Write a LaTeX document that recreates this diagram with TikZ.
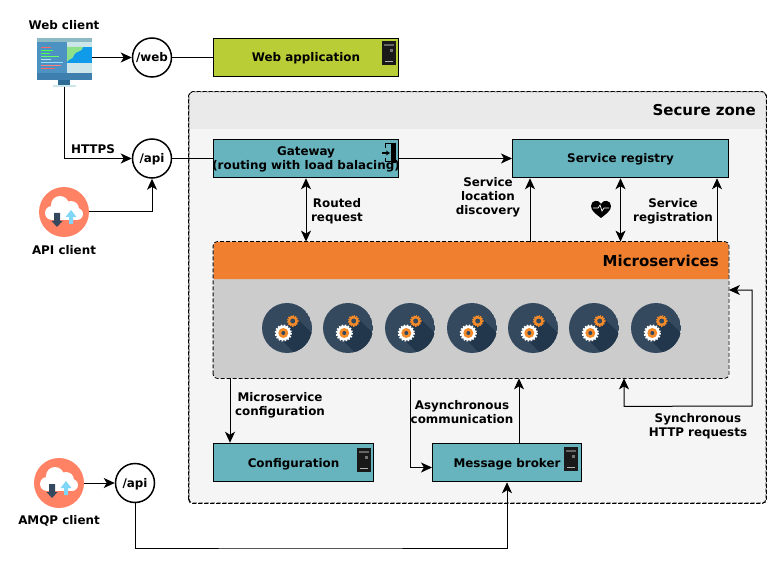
\documentclass[tikz,border=0pt]{standalone}
\usepackage{fontspec}
\setmainfont{DejaVu Sans}
\usetikzlibrary{arrows.meta}

\definecolor{boxteal}{HTML}{67B3BE}
\definecolor{boxlime}{HTML}{B9CD37}
\definecolor{zonefill}{HTML}{F5F5F5}
\definecolor{zonehead}{HTML}{EAEAEA}
\definecolor{microhead}{HTML}{F07F30}
\definecolor{microbody}{HTML}{CCCCCC}
\definecolor{gearblue}{HTML}{34495E}
\definecolor{gearshade}{HTML}{22364C}
\definecolor{gearorange}{HTML}{F58B29}
\definecolor{cloudred}{HTML}{FF8264}
\definecolor{screenblue}{HTML}{4C93C3}
\definecolor{screentop}{HTML}{8DBBC5}
\definecolor{screenbar}{HTML}{3F7FAE}
\definecolor{screenstand}{HTML}{2D6A96}
\definecolor{screenpale}{HTML}{CDE6EA}
\definecolor{mapblue}{HTML}{0F9BEA}
\definecolor{mapgreen}{HTML}{8FE08A}

\tikzset{
    label text/.style={font=\fontsize{11.9}{14}\selectfont\bfseries, align=center, inner sep=0pt},
    free text/.style={label text, yshift=-1pt},
    title text/.style={font=\fontsize{15}{17}\selectfont\bfseries, inner sep=0pt, anchor=east},
    box/.style={draw, line width=1pt, label text, text height=9pt, text depth=0pt, minimum height=38.5pt},
    endpoint/.style={draw, circle, fill=white, line width=1.5pt, label text, text height=9pt, text depth=0pt, minimum size=39pt},
    dashbox/.style={draw, dash pattern=on 4pt off 2pt, line width=0.8pt, rounded corners=4pt, inner sep=0pt},
    link/.style={line width=1pt},
    arrow/.style={link, -{Stealth[length=11pt,width=10pt,inset=3pt]}},
    biarrow/.style={link, {Stealth[length=11pt,width=10pt,inset=3pt]}-{Stealth[length=11pt,width=10pt,inset=3pt]}},
    pics/servericon/.style={code={
        \fill[black!90] (0,0) rectangle (14,24);
        \fill[black!60] (2,3) rectangle (12,5);
        \fill[black!55] (8,8) rectangle (11,11);
        \fill[white!70!black] (3,20) rectangle (11,21);
    }},
    pics/dooricon/.style={code={
        \draw[black, line width=1pt] (3,1) -- (12,1) -- (12,19) -- (3,19) (3,1) -- (3,5) (3,15) -- (3,19);
        \fill[black] (9,0) rectangle (14,20);
        \draw[black, line width=1.6pt, -{Stealth[length=4pt,width=5pt]}] (0,10) -- (8,10);
    }},
    pics/hearticon/.style={code={
        \fill[black] (0,9) .. controls (-5,5) and (-10,2) .. (-10,-3)
            .. controls (-10,-9) and (-2,-10) .. (0,-5)
            .. controls (2,-10) and (10,-9) .. (10,-3)
            .. controls (10,2) and (5,5) .. (0,9) -- cycle;
        \draw[white, line width=0.7pt] (-8,-1) -- (-3,-1) -- (-1,-4) -- (1,2) -- (3,-1) -- (8,-1);
    }},
    pics/cloudicon/.style={code={
        \fill[white] (-4,-7) circle (9) (-12,1) circle (7) (7,-3) circle (8) (13,2) circle (6);
        \fill[white] (-12,-2) rectangle (13,8);
        \fill[gearblue] (-10,1) rectangle (-4,9) (-12.5,9) -- (-1.5,9) -- (-7,15) -- cycle;
        \fill[cyan!50!white] (5,4) rectangle (9,12) (1.5,5) -- (12.5,5) -- (7,-2) -- cycle;
    }},
    pics/gearicon/.style={code={
        \begin{scope}
            \clip (0,0) circle (25);
            \fill[gearblue] (0,0) circle (25);
            \fill[gearshade] (-8,9) -- (6.7,-12.7) -- (30,10) -- (12,30) -- cycle;
        \end{scope}
        \draw[white, line width=2pt, dash pattern=on 1.6pt off 1.4pt] (-3.7,5) circle (7.6);
        \fill[white] (-3.7,5) circle (7.4);
        \fill[gearorange] (-3.7,5) circle (5);
        \fill[gearblue] (-3.7,5) circle (2);
        \draw[gearorange, line width=1.5pt, dash pattern=on 1.3pt off 1.1pt] (5.7,-7) circle (5.2);
        \fill[gearorange] (5.7,-7) circle (5);
        \fill[gearblue] (5.7,-7) circle (2.5);
    }},
    pics/monitoricon/.style={code={
        \fill[screenpale] (16,47) rectangle (39,49);
        \fill[screenstand] (21,42) rectangle (33,47);
        \fill[screenblue] (0,0) rectangle (55,42);
        \fill[screentop] (0,0) rectangle (55,4);
        \fill[screenpale] (30,4) rectangle (55,9);
        \fill[mapblue] (30,9) rectangle (55,25);
        \fill[mapgreen] (30,9) -- (46,9) .. controls (46,14) and (38,13) .. (37,17) .. controls (36,22) and (32,20) .. (30,24) -- cycle;
        \fill[screenpale] (30,25) rectangle (55,35);
        \fill[screenbar] (0,35) rectangle (55,42);
        \foreach \ypos/\xlen/\tone in {9/10/red!60, 12/12/green!70, 15/9/green!70, 18/18/green!60, 21/10/cyan!30, 24/22/cyan!40, 27/20/red!50, 30/14/red!60} {
            \fill[\tone] (4,\ypos) rectangle ++(\xlen,1.4);
        }
    }},
}

\begin{document}
\begin{tikzpicture}[x=1pt, y=-1pt]
    \useasboundingbox (0,0) rectangle (782,564);

    % secure zone
    \node[dashbox, fill=zonefill, minimum width=577pt, minimum height=411pt] (secure) at (477.5,297.5) {};
    \fill[zonehead] (189.5,129) [rounded corners=4pt] -- (189.5,92.5) -- (765.5,92.5) [sharp corners] -- (765.5,129) -- cycle;
    \draw[dash pattern=on 4pt off 2pt, line width=0.8pt, rounded corners=4pt] (secure.south west) rectangle (secure.north east);
    \node[title text] (securetitle) at (756,110) {Secure zone};

    % boxes
    \node[box, fill=boxlime, minimum width=185pt] (webapp) at (306,57.5) {Web application};
    \node[box, fill=boxteal, minimum width=185pt] (gateway) at (306,158.5) {};
    \node[box, fill=boxteal, minimum width=216pt] (registry) at (620.5,158.5) {Service registry};
    \node[box, fill=boxteal, minimum width=160pt] (config) at (293.5,462.5) {Configuration};
    \node[box, fill=boxteal, minimum width=149pt] (broker) at (507,462.5) {Message broker};
    \pic at (382,41) {servericon};
    \pic at (382,143) {dooricon};
    \pic at (357,448) {servericon};
    \pic at (564,447) {servericon};
    \node[free text] (gatewaytext) at (306,158.5) {Gateway\\(routing with load balacing)};

    % microservices
    \node[dashbox, draw=none, fill=microbody, minimum width=515pt, minimum height=136pt] (micro) at (471,310) {};
    \fill[microhead] (213.5,279) [rounded corners=4pt] -- (213.5,242) -- (728.5,242) [sharp corners] -- (728.5,279) -- cycle;
    \draw[dash pattern=on 4pt off 2pt, line width=0.8pt, rounded corners=4pt] (micro.south west) rectangle (micro.north east);
    \node[title text] (microtitle) at (719,261) {Microservices};
    \foreach \xpos in {287,348,410,472,533,594,656} {
        \pic at (\xpos,328) {gearicon};
    }

    % clients
    \node[free text] (webclient) at (64,24) {Web client};
    \node[minimum width=55pt, minimum height=49pt, inner sep=0pt] (webicon) at (64.5,62.5) {};
    \pic at (37,38) {monitoricon};
    \node[circle, fill=cloudred, minimum size=50pt, inner sep=0pt] (apicloud) at (64,212) {};
    \pic at (64,212) {cloudicon};
    \node[free text] (apiclient) at (64,249) {API client};
    \node[circle, fill=cloudred, minimum size=50pt, inner sep=0pt] (amqpcloud) at (59,483) {};
    \pic at (59,483) {cloudicon};
    \node[free text] (amqpclient) at (59,520) {AMQP client};

    \node[endpoint] (web) at (152,57.5) {/web};
    \node[endpoint] (api) at (152,158.5) {/api};
    \node[endpoint] (amqp) at (135,483) {/api};

    % connectors
    \draw[arrow] ([yshift=5pt]webicon.east) -- (web);
    \draw[link] (web) -- (webapp);
    \draw[arrow] (webicon.south) |- (api);
    \draw[arrow] (apicloud) -| (api);
    \draw[link] (api) -- (gateway);
    \draw[arrow] (gateway) -- (registry);
    \draw[biarrow] (gateway.south) -- (gateway.south |- micro.north);
    \draw[arrow] ([xshift=59pt]micro.north) -- ([xshift=59pt]micro.north |- registry.south);
    \draw[biarrow] (registry.south) -- (registry.south |- micro.north);
    \draw[arrow] ([xshift=246pt]micro.north) -- ([xshift=246pt]micro.north |- registry.south);
    \draw[arrow] ([xshift=-241pt]micro.south) -- ([xshift=-241pt]micro.south |- config.north);
    \draw[arrow] ([xshift=-61pt]micro.south) |- ([yshift=-5pt]broker.west);
    \draw[arrow] ([xshift=12pt]broker.north) -- ([xshift=12pt]broker.north |- micro.south);
    \draw[arrow] (amqpcloud) -- (amqp);
    \draw[arrow] (amqp.south) |- (300,548) -| (broker.south);
    \draw[biarrow] ([xshift=153pt]micro.south) -- ++(0,28) -- (752,406) -- (752,290) -- (micro.east |- 0,290);

    % labels
    \node[free text] (https) at (93,148) {HTTPS};
    \node[free text] (routed) at (337,210) {Routed\\request};
    \node[free text] (discovery) at (488,196) {Service\\location\\discovery};
    \pic at (601,209) {hearticon};
    \node[free text] (registration) at (673,210) {Service\\registration};
    \node[free text] (microconfig) at (280,404) {Microservice\\configuration};
    \node[free text] (async) at (462,411) {Asynchronous\\communication};
    \node[free text] (sync) at (698,425) {Synchronous\\HTTP requests};
\end{tikzpicture}
\end{document}
